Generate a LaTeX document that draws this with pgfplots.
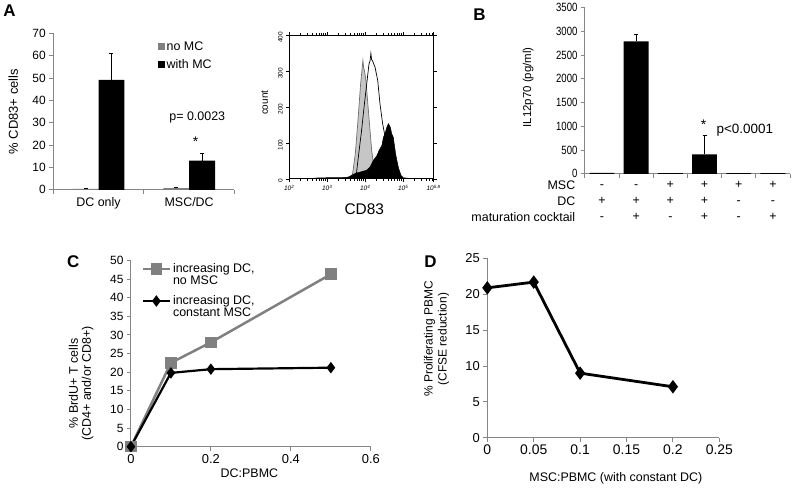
\documentclass[border=0pt]{standalone}
\usepackage{fontspec}
\setmainfont{Liberation Sans}
\usepackage{graphicx}
\usepackage{pgfplots}
\pgfplotsset{compat=1.18}
\definecolor{axgray}{RGB}{134,134,134}
\definecolor{bargray}{RGB}{128,128,128}
\definecolor{lightfill}{RGB}{198,198,198}
\definecolor{histline}{RGB}{110,110,110}
\newcommand{\fs}[1]{\fontsize{#1}{#1}\selectfont}
\pgfplotsset{
  base/.style={scale only axis, anchor=south west,
    axis x line*=bottom, axis y line*=left,
    axis line style={draw=axgray, line width=0.9pt},
    tick style={draw=axgray, line width=0.9pt},
    tick align=outside, major tick length=4pt, minor tick length=4pt,
    tick label style={font=\fs{12}},
    label style={font=\fs{12}},
    /pgf/number format/assume math mode=true,
    /pgf/number format/1000 sep={},
    scaled ticks=false, clip=false},
}
\begin{document}
\begin{tikzpicture}
\path (0pt,0pt) rectangle (792pt,484pt);
\node[font=\bfseries\fs{17}] at (6pt,476pt) {A};
\node[font=\bfseries\fs{17}] at (478pt,472pt) {B};
\node[font=\bfseries\fs{17}] at (70pt,224pt) {C};
\node[font=\bfseries\fs{17}] at (429pt,224pt) {D};

% ---------------- Panel A bars
\begin{axis}[base, at={(50pt,296pt)}, width=182pt, height=157pt,
  xmin=0.5, xmax=2.5, ymin=0, ymax=70, ytick={0,10,...,70},
  xtick={1,2}, xticklabels={DC only, MSC/DC},
  xticklabel style={font=\fs{12.5}},
  minor xtick={0.5,1.5,2.5}, major x tick style={draw=none},
  ybar=0pt, bar width=26pt,
  ylabel={\% CD83+ cells},
  ylabel style={at={(axis description cs:-0.22,0.5)}, anchor=center, font=\fs{13}},
  legend style={at={(axis description cs:0.57,0.97)}, anchor=north west, draw=none, fill=none,
    font=\fs{12.5}, row sep=4pt, inner sep=1pt},
  legend cell align=left,
  legend image code/.code={\fill[#1] (0pt,-3.5pt) rectangle (7pt,3.5pt);},
  ]
\addplot[fill=bargray, draw=none, error bars/.cd, y dir=plus, y explicit,
  error bar style={draw=black, line width=1pt}]
  coordinates {(1,0.4) +- (0,0.3) (2,0.7) +- (0,0.5)};
\addplot[fill=black, draw=none, error bars/.cd, y dir=plus, y explicit,
  error bar style={draw=black, line width=1pt}]
  coordinates {(1,49.2) +- (0,12.1) (2,13.0) +- (0,3.3)};
\legend{no MC, with MC}
\node[font=\fs{12.5}] at (axis cs:2.09,32.5) {p= 0.0023};
\node[font=\fs{14}] at (axis cs:2.07,21.5) {*};
\end{axis}

% ---------------- Panel A histogram
\begin{axis}[scale only axis, anchor=south west, at={(287pt,307pt)}, width=145pt, height=144pt,
  xmin=2, xmax=5.8, ymin=0, ymax=400,
  axis line style={line width=0.6pt}, tick style={line width=0.5pt, black},
  tick align=outside, major tick length=3pt, minor tick length=2pt,
  xtick={2,3,4,5,5.8},
  xticklabels={10\textsuperscript{2},10\textsuperscript{3},10\textsuperscript{4},10\textsuperscript{5},10\textsuperscript{5.8}},
  minor xtick={2.301,2.477,2.602,2.699,2.778,2.845,2.903,2.954,3.301,3.477,3.602,3.699,3.778,3.845,3.903,3.954,4.301,4.477,4.602,4.699,4.778,4.845,4.903,4.954,5.301,5.477,5.602,5.699,5.778},
  ytick={0,100,200,300,400},
  yticklabel style={rotate=90, font=\fs{6.5}, xshift=-2pt},
  xticklabel style={font=\itshape\fs{6.5}},
  /pgf/number format/assume math mode=true,
  ylabel={count}, ylabel style={at={(axis description cs:-0.17,0.53)}, anchor=center, font=\fs{10}},
  xlabel={CD83}, xlabel style={at={(axis description cs:0.52,-0.21)}, anchor=center, font=\fs{15.5}},
  ]
\addplot[fill=lightfill, draw=histline, line width=0.7pt] coordinates {
 (3.55,0) (3.61,1) (3.67,15) (3.74,70) (3.81,163) (3.88,265) (3.94,330) (3.96,310) (3.98,302)
 (4.02,274) (4.07,209) (4.12,144) (4.17,80) (4.23,33) (4.28,5) (4.35,0)} \closedcycle;
\addplot[draw=black, line width=0.7pt] coordinates {
 (3.72,0) (3.77,15) (3.83,70) (3.90,130) (3.96,190) (4.04,265) (4.10,320) (4.13,330) (4.15,350)
 (4.17,332) (4.19,330) (4.26,311) (4.33,274) (4.39,209) (4.46,153) (4.52,120) (4.60,80)
 (4.70,35) (4.80,10) (4.90,0)};
\addplot[fill=black, draw=black, line width=0.5pt] coordinates {
 (2.60,0) (2.65,2) (3.00,3) (3.30,3) (3.50,4) (3.56,5) (3.74,15) (3.91,20) (4.04,24) (4.13,33)
 (4.22,52) (4.31,65) (4.37,80) (4.44,93) (4.48,116) (4.52,125) (4.57,144) (4.61,154) (4.66,144)
 (4.70,125) (4.74,116) (4.80,70) (4.87,33) (4.94,10) (5.00,3) (5.17,1) (5.30,0)} \closedcycle;
\end{axis}

% ---------------- Panel B
\begin{axis}[base, at={(584pt,312pt)}, width=206pt, height=167pt,
  xmin=0.5, xmax=6.5, ymin=0, ymax=3500, ytick={0,500,...,3500},
  yticklabel={\scalebox{0.8}[1]{\pgfmathprintnumber{\tick}}},
  xtick={1,...,6},
  xticklabels={{\strut-\\\strut+\\\strut-},{\strut-\\\strut+\\\strut+},{\strut+\\\strut+\\\strut-},
               {\strut+\\\strut+\\\strut+},{\strut+\\\strut-\\\strut-},{\strut+\\\strut-\\\strut+}},
  xticklabel style={align=center, font=\fontsize{12.5}{16}\selectfont, yshift=4pt},
  minor xtick={0.5,1.5,2.5,3.5,4.5,5.5,6.5}, major x tick style={draw=none},
  ybar, bar width=25pt,
  ylabel={IL12p70 (pg/ml)},
  ylabel style={at={(axis description cs:-0.277,0.52)}, anchor=center, font=\fs{11.5}},
  ]
\addplot[fill=black, draw=none, error bars/.cd, y dir=plus, y explicit,
  error bar style={draw=black, line width=1pt}]
  coordinates {(1,20) +- (0,0) (2,2790) +- (0,150) (3,15) +- (0,0) (4,410) +- (0,410) (5,15) +- (0,0) (6,15) +- (0,0)};
\node[anchor=north east, align=right, font=\fontsize{12.5}{16}\selectfont, yshift=-1pt]
  at (rel axis cs:-0.03,0) {\strut MSC\\\strut DC\\\strut maturation cocktail};
\node[font=\fs{14}] at (axis cs:3.97,1040) {*};
\node[anchor=west, font=\fs{13.5}] at (axis cs:4.25,920) {p<0.0001};
\end{axis}

% ---------------- Panel C
\begin{axis}[base, at={(128pt,38pt)}, width=241pt, height=187pt,
  xmin=0, xmax=0.6, ymin=0, ymax=50,
  xtick={0,0.2,0.4,0.6}, ytick={0,5,...,50},
  xticklabel style={/pgf/number format/fixed, font=\fs{13}},
  yticklabel style={font=\fs{12}},
  xlabel={DC:PBMC},
  xlabel style={at={(axis description cs:0.494,-0.144)}, anchor=center, font=\fs{12.5}},
  ylabel={\% BrdU+ T cells\\(CD4+ and/or CD8+)},
  ylabel style={at={(axis description cs:-0.207,0.34)}, anchor=center, align=center, font=\fontsize{12.5}{13}\selectfont},
  legend style={at={(axis description cs:0.04,1.0)}, anchor=north west, draw=none, fill=none,
    font=\fontsize{12.5}{11.5}\selectfont, cells={align=left}, row sep=6pt, inner sep=1pt},
  legend cell align=left,
  legend image code/.code={\draw[mark repeat=2, mark phase=2, yshift=5.5pt, #1] plot coordinates {(0pt,0pt) (13.5pt,0pt) (27pt,0pt)};},
  ]
\addplot[color=bargray, line width=2.5pt, mark=square*, mark size=4.5pt, mark options={solid}]
  coordinates {(0,0) (0.1,22.5) (0.2,28.0) (0.5,46.3)};
\addplot[color=black, line width=2.2pt, mark=diamond*, mark size=4pt]
  coordinates {(0,0) (0.1,19.8) (0.2,20.8) (0.5,21.2)};
\legend{{increasing DC,\\no MSC}, {increasing DC,\\constant MSC}}
\end{axis}

% ---------------- Panel D
\begin{axis}[base, at={(486pt,47pt)}, width=233pt, height=180pt,
  xmin=0, xmax=0.25, ymin=0, ymax=25,
  xtick={0,0.05,0.1,0.15,0.2,0.25}, ytick={0,5,10,15,20,25},
  xticklabel style={/pgf/number format/fixed, /pgf/number format/precision=2, font=\fs{14}},
  yticklabel style={font=\fs{13}},
  xlabel={MSC:PBMC (with constant DC)},
  xlabel style={at={(axis description cs:0.554,-0.228)}, anchor=center, font=\fs{12.5}},
  ylabel={\% Proliferating PBMC\\(CFSE reduction)},
  ylabel style={at={(axis description cs:-0.219,0.55)}, anchor=center, align=center, font=\fontsize{12}{14}\selectfont},
  ]
\addplot[color=black, line width=2.8pt, mark=diamond*, mark size=4.5pt]
  coordinates {(0,20.9) (0.05,21.7) (0.1,9.0) (0.2,7.1)};
\end{axis}
\end{tikzpicture}
\end{document}
